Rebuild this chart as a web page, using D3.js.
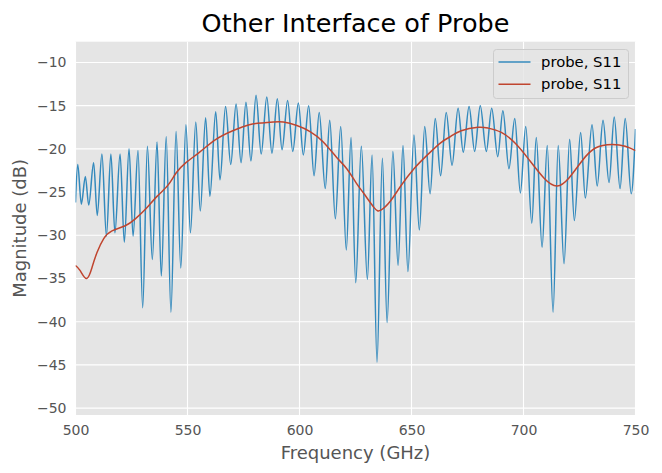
<!DOCTYPE html>
<html>
<head>
<meta charset="utf-8">
<script src="https://cdn.jsdelivr.net/npm/d3@7"></script>
<style>
  body { margin: 0; background: #fff; }
  svg { display: block; font-family: "DejaVu Sans", sans-serif; }
</style>
</head>
<body>
<svg id="chart"></svg>
<script>
// Blue trace: peaks and dips (GHz, dB)
const blueFreq = [500.0, 501.0, 502.6, 504.4, 505.9, 508.1, 509.7, 511.8, 513.8, 515.8,
  517.6, 519.9, 521.8, 523.9, 525.7, 527.9, 530.0, 532.1, 534.3, 536.4,
  538.3, 540.5, 542.6, 544.9, 547.0, 549.3, 551.3, 553.7, 555.7, 558.1,
  560.0, 562.6, 564.5, 567.0, 569.3, 571.7, 573.9, 576.1, 578.3, 580.6,
  582.9, 585.4, 587.7, 590.1, 592.2, 594.7, 597.0, 599.5, 601.7, 604.1,
  606.5, 608.8, 611.5, 613.5, 616.0, 618.4, 620.9, 623.0, 625.1, 627.6,
  630.3, 632.4, 634.6, 637.0, 639.1, 641.7, 644.0, 646.2, 648.4, 651.1,
  653.5, 655.9, 658.3, 660.6, 663.0, 665.5, 668.1, 670.8, 673.1, 675.7,
  678.2, 680.7, 683.4, 685.8, 688.5, 690.8, 693.5, 696.1, 698.6, 701.0,
  703.7, 705.7, 708.3, 710.6, 713.2, 715.5, 718.1, 720.6, 722.7, 725.5,
  727.6, 730.6, 732.9, 735.5, 738.2, 740.5, 743.1, 745.4, 748.1, 750.0];
const blueMag = [-26.2, -21.8, -26.4, -23.2, -26.5, -21.6, -27.7, -20.6, -30.1, -20.6,
  -29.7, -20.6, -30.8, -20.0, -30.1, -20.2, -38.4, -19.7, -32.8, -19.2,
  -34.7, -18.6, -38.9, -18.0, -33.8, -17.2, -29.7, -16.9, -27.2, -16.4,
  -25.5, -15.7, -23.6, -15.1, -21.8, -14.8, -21.6, -14.6, -21.4, -13.8,
  -20.6, -14.0, -20.5, -14.2, -20.1, -14.4, -20.3, -14.7, -20.7, -15.0,
  -23.1, -15.8, -24.6, -16.7, -28.1, -17.4, -31.7, -18.7, -35.5, -19.7,
  -35.1, -20.7, -44.7, -21.1, -40.1, -20.3, -33.5, -19.6, -34.2, -18.4,
  -29.4, -17.4, -25.2, -16.5, -23.1, -15.8, -21.9, -15.3, -20.4, -15.1,
  -20.3, -15.0, -20.3, -15.3, -20.9, -15.6, -22.3, -16.5, -25.1, -17.4,
  -28.6, -18.7, -31.4, -19.6, -38.9, -19.6, -33.3, -18.9, -28.3, -18.1,
  -25.7, -17.2, -24.3, -16.7, -23.9, -16.3, -24.6, -16.5, -25.2, -17.7];

// Red trace: smooth envelope
const redFreq = [500.0, 502.1, 505.0, 507.4, 509.6, 512.6, 516.3, 522.2, 526.7, 531.2,
  536.4, 541.3, 544.9, 549.3, 555.3, 562.7, 570.2, 577.6, 583.3, 588.3,
  592.8, 598.8, 604.7, 610.6, 616.6, 621.1, 625.2, 628.8, 633.3, 636.3,
  640.7, 645.2, 651.1, 657.1, 663.0, 667.2, 672.2, 679.7, 684.2, 690.1,
  696.1, 702.0, 709.2, 715.0, 720.2, 726.1, 732.1, 739.5, 745.4, 750.0];
const redMag = [-33.5, -34.1, -35.0, -33.7, -32.0, -30.4, -29.5, -28.9, -28.1, -27.0,
  -25.5, -24.2, -22.8, -21.6, -20.4, -18.9, -17.9, -17.2, -17.0, -16.9,
  -16.9, -17.3, -18.0, -19.2, -21.0, -22.3, -23.9, -25.2, -26.8, -27.1,
  -26.0, -24.3, -22.3, -20.7, -19.3, -18.6, -17.9, -17.5, -17.6, -18.1,
  -19.3, -21.1, -23.4, -24.3, -23.4, -21.4, -19.9, -19.5, -19.7, -20.2];

const xTicks = [500, 550, 600, 650, 700, 750];
const yTicks = [-50, -45, -40, -35, -30, -25, -20, -15, -10];
const seriesNames = ["probe, S11", "probe, S11"];
const seriesColors = ["#348ABD", "#C0452F"];

const W = 662, H = 473;
const margin = {top: 41.7, right: 26.5, bottom: 58, left: 75.5},
    width = W - margin.left - margin.right,
    height = H - margin.top - margin.bottom;

const svg = d3.select("#chart").attr("width", W).attr("height", H);

const g = svg.append("g")
    .attr("transform", `translate(${margin.left},${margin.top})`);

const x = d3.scaleLinear().domain([500, 750]).range([0, width]);
const y = d3.scaleLinear().domain([-50.8, -7.6]).range([height, 0]);

// plot background
g.append("rect")
    .attr("width", width)
    .attr("height", height)
    .attr("fill", "#E5E5E5");

// grid
g.append("g").selectAll("line")
    .data(xTicks).join("line")
    .attr("x1", d => x(d)).attr("x2", d => x(d))
    .attr("y1", 0).attr("y2", height)
    .attr("stroke", "#fff").attr("stroke-width", 1.1);
g.append("g").selectAll("line")
    .data(yTicks).join("line")
    .attr("x1", 0).attr("x2", width)
    .attr("y1", d => y(d)).attr("y2", d => y(d))
    .attr("stroke", "#fff").attr("stroke-width", 1.1);

// axes
const fmt = d => d < 0 ? "\u2212" + Math.abs(d) : String(d);
const xAxis = g.append("g")
    .attr("transform", `translate(0,${height})`)
    .call(d3.axisBottom(x).tickValues(xTicks).tickFormat(fmt).tickSize(0).tickPadding(10));
const yAxis = g.append("g")
    .call(d3.axisLeft(y).tickValues(yTicks).tickFormat(fmt).tickSize(0).tickPadding(9));
[xAxis, yAxis].forEach(a => {
  a.select(".domain").remove();
  a.selectAll("text")
    .attr("fill", "#555555")
    .style("font-size", "14px")
    .style("font-family", "DejaVu Sans, sans-serif");
});

// lines
const clip = g.append("clipPath").attr("id", "clip")
    .append("rect").attr("width", width).attr("height", height);

const blueData = blueFreq.map((f, i) => [f, blueMag[i]]);
const redData = redFreq.map((f, i) => [f, redMag[i]]);

const line = d3.line()
    .x(d => x(d[0]))
    .y(d => y(d[1]))
    .curve(d3.curveMonotoneX);

g.append("path")
    .datum(blueData)
    .attr("clip-path", "url(#clip)")
    .attr("fill", "none")
    .attr("stroke", seriesColors[0])
    .attr("stroke-width", 1.5)
    .attr("stroke-linejoin", "round")
    .attr("d", line);

g.append("path")
    .datum(redData)
    .attr("clip-path", "url(#clip)")
    .attr("fill", "none")
    .attr("stroke", seriesColors[1])
    .attr("stroke-width", 1.5)
    .attr("d", line.curve(d3.curveNatural));

// title and axis labels
svg.append("text")
    .attr("x", margin.left + width / 2)
    .attr("y", 32)
    .attr("text-anchor", "middle")
    .style("font-size", "25.5px")
    .attr("fill", "#000")
    .text("Other Interface of Probe");

svg.append("text")
    .attr("x", margin.left + width / 2)
    .attr("y", 459)
    .attr("text-anchor", "middle")
    .style("font-size", "18px")
    .attr("fill", "#555555")
    .text("Frequency (GHz)");

svg.append("text")
    .attr("transform", `translate(26,${margin.top + height / 2}) rotate(-90)`)
    .attr("text-anchor", "middle")
    .style("font-size", "18px")
    .attr("fill", "#555555")
    .text("Magnitude (dB)");

// legend
const legend = svg.append("g").attr("transform", "translate(493.5,49.5)");
legend.append("rect")
    .attr("width", 135).attr("height", 49)
    .attr("rx", 3)
    .attr("fill", "#E5E5E5").attr("fill-opacity", 0.8)
    .attr("stroke", "#CCCCCC");
seriesNames.forEach((name, i) => {
  const ly = 12.5 + i * 22.3;
  legend.append("line")
    .attr("x1", 5).attr("x2", 37)
    .attr("y1", ly).attr("y2", ly)
    .attr("stroke", seriesColors[i]).attr("stroke-width", 1.5);
  legend.append("text")
    .attr("x", 47.5).attr("y", ly + 5)
    .style("font-size", "14.8px")
    .attr("fill", "#000")
    .text(name);
});
</script>
</body>
</html>
